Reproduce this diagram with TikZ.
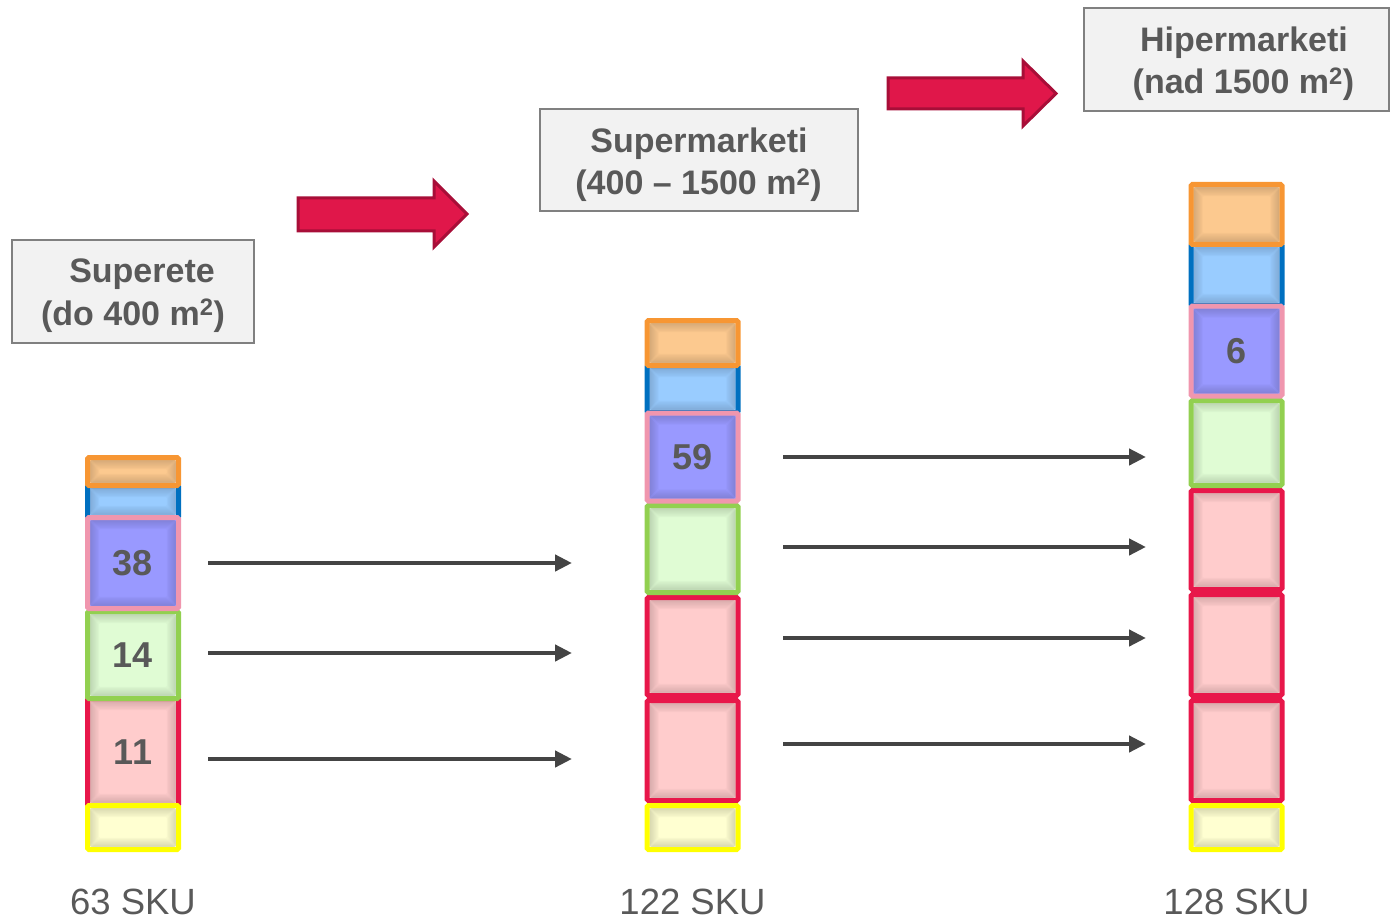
\documentclass[tikz,border=0pt]{standalone}
\usepackage{fontspec}
\setmainfont{Liberation Sans}
\usetikzlibrary{arrows.meta}
\definecolor{orB}{HTML}{F79633}
\definecolor{orF}{HTML}{FCC98F}
\definecolor{blB}{HTML}{0070C0}
\definecolor{blF}{HTML}{99CCFF}
\definecolor{piB}{HTML}{F096AE}
\definecolor{puF}{HTML}{9999FF}
\definecolor{grB}{HTML}{92D050}
\definecolor{grF}{HTML}{E0FCD4}
\definecolor{reB}{HTML}{E8174A}
\definecolor{reF}{HTML}{FFCCCC}
\definecolor{yeB}{HTML}{FFFF00}
\definecolor{yeF}{HTML}{FFFFD1}
\definecolor{numgray}{HTML}{595959}
\definecolor{lblgray}{HTML}{595959}
\definecolor{hdrfill}{HTML}{F2F2F2}
\definecolor{hdrline}{HTML}{808080}
\definecolor{conngray}{HTML}{444444}
\definecolor{crimF}{HTML}{E0174A}
\definecolor{crimB}{HTML}{A80E38}
\tikzset{
  inset/.style={path picture={
    \foreach \i in {3,...,11}{
      \pgfmathsetmacro{\op}{0.11*(12-\i)/9+0.01}
      \draw[black,opacity=\op,line width=1.2pt]
        ([xshift=\i pt,yshift=-\i pt]path picture bounding box.north west) rectangle
        ([xshift=-\i pt,yshift=\i pt]path picture bounding box.south east);}
  }},
  cbox/.style 2 args={rectangle, draw=#1, fill=#2, line width=5pt, rounded corners=1.5pt,
    minimum width=91pt, inner sep=0pt, text=numgray,
    font=\fontsize{36}{40}\selectfont\bfseries, inset},
  hdrbox/.style={rectangle, draw=hdrline, fill=hdrfill, line width=2pt, inner sep=0pt},
  hdrtext/.style={anchor=base, inner sep=0pt, text=numgray, font=\fontsize{34}{40}\selectfont\bfseries},
  skutext/.style={anchor=base, inner sep=0pt, text=lblgray, font=\fontsize{36.5}{40}\selectfont},
  conn/.style={draw=conngray, line width=4.5pt, -{Triangle[length=17pt,width=16pt]}},
  blockarrow/.style={fill=crimF, draw=crimB, line width=3pt, line join=miter},
}
\begin{document}
\begin{tikzpicture}[x=1pt,y=-1pt]
\useasboundingbox (0,0) rectangle (1390,920);

% ---------- column 1 ----------
\node[cbox={blB}{blF}, minimum height=32pt] (c1b) at (133,501.5) {};
\node[cbox={reB}{reF}, minimum height=107pt] (c1r) at (133,752) {11};
\node[cbox={grB}{grF}, minimum height=87pt] (c1g) at (133,655) {14};
\node[cbox={piB}{puF}, minimum height=91pt] (c1p) at (133,563) {38};
\node[cbox={orB}{orF}, minimum height=28pt] (c1o) at (133,471.5) {};
\node[cbox={yeB}{yeF}, minimum height=44pt] (c1y) at (133,827.5) {};

% ---------- column 2 ----------
\node[cbox={blB}{blF}, minimum height=47pt] (c2b) at (692.5,389) {};
\node[cbox={reB}{reF}, minimum height=98pt] (c2r1) at (692.5,646.5) {};
\node[cbox={reB}{reF}, minimum height=100pt] (c2r2) at (692.5,750.5) {};
\node[cbox={grB}{grF}, minimum height=87pt] (c2g) at (692.5,549) {};
\node[cbox={piB}{puF}, minimum height=88pt] (c2p) at (692.5,457) {59};
\node[cbox={orB}{orF}, minimum height=45pt] (c2o) at (692.5,343) {};
\node[cbox={yeB}{yeF}, minimum height=44pt] (c2y) at (692.5,827.5) {};

% ---------- column 3 ----------
\node[cbox={blB}{blF}, minimum height=61pt] (c3b) at (1236.5,275) {};
\node[cbox={reB}{reF}, minimum height=99pt] (c3r1) at (1236.5,540) {};
\node[cbox={reB}{reF}, minimum height=101pt] (c3r2) at (1236.5,645) {};
\node[cbox={reB}{reF}, minimum height=100pt] (c3r3) at (1236.5,750.5) {};
\node[cbox={grB}{grF}, minimum height=85pt] (c3g) at (1236.5,443) {};
\node[cbox={piB}{puF}, minimum height=90pt] (c3p) at (1236.5,351) {6};
\node[cbox={orB}{orF}, minimum height=60pt] (c3o) at (1236.5,214.5) {};
\node[cbox={yeB}{yeF}, minimum height=44pt] (c3y) at (1236.5,827.5) {};

% ---------- SKU labels ----------
\node[skutext] (sku1) at (133,914) {63 SKU};
\node[skutext] (sku2) at (692.5,914) {122 SKU};
\node[skutext] (sku3) at (1236.5,914) {128 SKU};

% ---------- header boxes ----------
\node[hdrbox, minimum width=242pt, minimum height=103pt] (h1) at (133,291.5) {};
\node[hdrtext] (h1a) at (142,283) {Superete};
\node[hdrtext] (h1b) at (133,325) {(do 400 m\textsuperscript{2})};

\node[hdrbox, minimum width=318pt, minimum height=102pt] (h2) at (699,160) {};
\node[hdrtext] (h2a) at (699,153) {Supermarketi};
\node[hdrtext] (h2b) at (698.5,195) {(400 – 1500 m\textsuperscript{2})};

\node[hdrbox, minimum width=305pt, minimum height=103pt] (h3) at (1236.5,59.5) {};
\node[hdrtext] (h3a) at (1244,52) {Hipermarketi};
\node[hdrtext] (h3b) at (1243.5,94) {(nad 1500 m\textsuperscript{2})};

% ---------- block arrows ----------
\draw[blockarrow] (298,198) -- (434,198) -- (434,181) -- (467,214) -- (434,247) -- (434,231) -- (298,231) -- cycle;
\draw[blockarrow] (888,78) -- (1023,78) -- (1023,61) -- (1056,93.5) -- (1023,126) -- (1023,109) -- (888,109) -- cycle;

% ---------- connectors ----------
\coordinate (s1) at (208,563); \coordinate (e1) at (572,563);
\coordinate (s2) at (208,653); \coordinate (e2) at (572,653);
\coordinate (s3) at (208,759); \coordinate (e3) at (572,759);
\coordinate (s4) at (783,457); \coordinate (e4) at (1146,457);
\coordinate (s5) at (783,547); \coordinate (e5) at (1146,547);
\coordinate (s6) at (783,638); \coordinate (e6) at (1146,638);
\coordinate (s7) at (783,744); \coordinate (e7) at (1146,744);
\foreach \k in {1,...,7}{\draw[conn] (s\k) -- (e\k);}
\end{tikzpicture}
\end{document}
